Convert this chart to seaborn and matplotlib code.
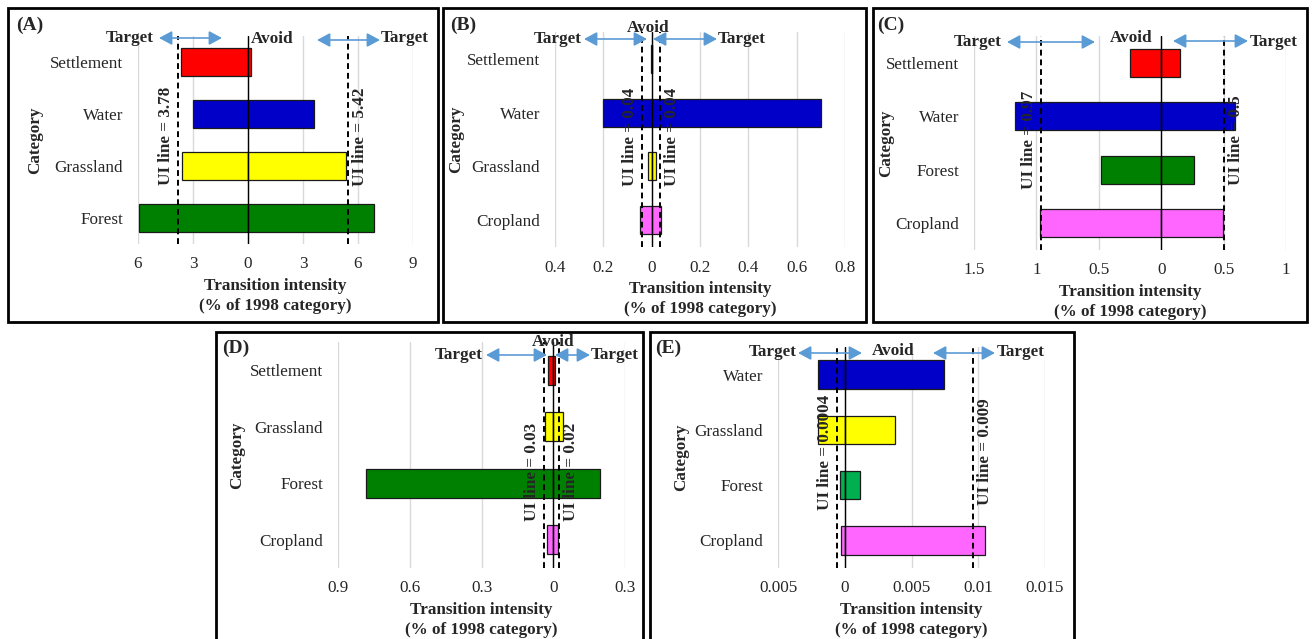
import pandas as pd
import seaborn as sns
import matplotlib.pyplot as plt
from matplotlib.patches import Rectangle, FancyArrowPatch

# ---- data (transition intensity, % of 1998 category)
cats_a = ["Settlement", "Water", "Grassland", "Forest"]
loss_a = [3.64, 3.02, 3.60, 5.93]
gain_a = [0.16, 3.58, 5.36, 6.85]
ui_a = [3.82, 5.45]
ui_txt_a = ["UI line = 3.78", "UI line = 5.42"]
ticks_a = [-6, -3, 0, 3, 6, 9]
ticklab_a = ["6", "3", "0", "3", "6", "9"]

cats_b = ["Settlement", "Water", "Grassland", "Cropland"]
loss_b = [0.001, 0.201, 0.014, 0.047]
gain_b = [0.001, 0.700, 0.018, 0.040]
ui_b = [0.039, 0.034]
ui_txt_b = ["UI line = 0.04", "UI line = 0.04"]
ticks_b = [-0.4, -0.2, 0, 0.2, 0.4, 0.6, 0.8]
ticklab_b = ["0.4", "0.2", "0", "0.2", "0.4", "0.6", "0.8"]

cats_c = ["Settlement", "Water", "Forest", "Cropland"]
loss_c = [0.249, 1.171, 0.479, 0.973]
gain_c = [0.152, 0.594, 0.265, 0.495]
ui_c = [0.963, 0.505]
ui_txt_c = ["UI line = 0.97", "UI line = 0.5"]
ticks_c = [-1.5, -1, -0.5, 0, 0.5, 1]
ticklab_c = ["1.5", "1", "0.5", "0", "0.5", "1"]

cats_d = ["Settlement", "Grassland", "Forest", "Cropland"]
loss_d = [0.020, 0.033, 0.781, 0.027]
gain_d = [0.006, 0.040, 0.194, 0.020]
ui_d = [0.038, 0.025]
ui_txt_d = ["UI line = 0.03", "UI line = 0.02"]
ticks_d = [-0.9, -0.6, -0.3, 0, 0.3]
ticklab_d = ["0.9", "0.6", "0.3", "0", "0.3"]

cats_e = ["Water", "Grassland", "Forest", "Cropland"]
loss_e = [0.0020, 0.0020, 0.00038, 0.00028]
gain_e = [0.0074, 0.00378, 0.00115, 0.01048]
ui_e = [0.00058, 0.00958]
ui_txt_e = ["UI line = 0.0004", "UI line = 0.009"]
ticks_e = [-0.005, 0, 0.005, 0.01, 0.015]
ticklab_e = ["0.005", "0", "0.005", "0.01", "0.015"]

colors = {"Settlement": "#FF0000", "Water": "#0000C8", "Grassland": "#FFFF00",
          "Forest": "#008000", "Cropland": "#FF66FF"}
colors_e = dict(colors, Forest="#00B050")

sns.set_style("white")
plt.rcParams["font.family"] = ["Liberation Serif", "DejaVu Serif"]
FS = 12.3

W, H = 1313, 639
fig = plt.figure(figsize=(W / 100, H / 100), dpi=100)


def px_rect(l, r, t, b):
    return [l / W, 1 - b / H, (r - l) / W, (b - t) / H]


def panel(box, cats, loss, gain, ui, ui_txt, ticks, ticklab, pal, ylab_x, ui_y=1.45):
    ax = fig.add_axes(px_rect(*box))
    df = pd.DataFrame({"Category": cats, "loss": [-v for v in loss], "gain": gain})
    for col in ["loss", "gain"]:
        sns.barplot(data=df, x=col, y="Category", hue="Category", palette=pal,
                    saturation=1, legend=False, width=0.52, edgecolor="#1a1a1a",
                    linewidth=0.9, errorbar=None, orient="h", ax=ax, zorder=3)
    ax.set_xlim(ticks[0], ticks[-1])
    ax.set_ylim(len(cats) - 0.5, -0.5)
    ax.set_xticks(ticks)
    ax.set_xticklabels(ticklab, fontsize=FS)
    ax.tick_params(axis="x", length=0, pad=9)
    ax.tick_params(axis="y", length=0, pad=10.8, labelsize=FS)
    ax.grid(axis="x", color="#d9d9d9", lw=1, zorder=0)
    ax.set_axisbelow(True)
    for s in ax.spines.values():
        s.set_visible(False)
    ax.axvline(0, color="black", lw=1, zorder=4)
    for x in [-ui[0], ui[1]]:
        ax.axvline(x, color="black", lw=1.4, ls=(0, (3, 2)), zorder=5)
    ax.annotate(ui_txt[0], xy=(-ui[0], ui_y), xytext=(-8.6, 0), textcoords="offset points",
                rotation=90, ha="center", va="center", fontsize=FS, fontweight="bold", zorder=6)
    ax.annotate(ui_txt[1], xy=(ui[1], ui_y), xytext=(8.6, 0), textcoords="offset points",
                rotation=90, ha="center", va="center", fontsize=FS, fontweight="bold", zorder=6)
    ax.set_xlabel("Transition intensity\n(% of 1998 category)", fontsize=FS,
                  fontweight="bold", labelpad=4, linespacing=1.3)
    ax.set_ylabel("Category", fontsize=FS, fontweight="bold")
    ax.yaxis.set_label_coords((ylab_x + 8 - box[0]) / (box[1] - box[0]), 0.5)
    return ax


def decorate(label, lab_xy, texts, arrows, border):
    fig.text(lab_xy[0] / W, 1 - lab_xy[1] / H, label, fontsize=14, fontweight="bold",
             ha="left", va="center")
    for t, x, y, ha in texts:
        fig.text(x / W, 1 - y / H, t, fontsize=FS, fontweight="bold", ha=ha, va="center",
                 zorder=10)
    for x0, x1, y in arrows:
        fig.add_artist(FancyArrowPatch(
            (x0 / W, 1 - y / H), (x1 / W, 1 - y / H), transform=fig.transFigure,
            arrowstyle="<|-|>,head_length=0.65,head_width=0.35", mutation_scale=12,
            color="#5B9BD5", lw=1.2, shrinkA=0, shrinkB=0))
    x0, y0, x1, y1 = border
    fig.patches.append(Rectangle((x0 / W, 1 - y1 / H), (x1 - x0) / W, (y1 - y0) / H,
                                 transform=fig.transFigure, fill=False, ec="black",
                                 lw=2, zorder=0))


panel((138, 413, 36, 244), cats_a, loss_a, gain_a, ui_a, ui_txt_a, ticks_a, ticklab_a, colors, 35, 1.43)
decorate("(A)", (16, 25),
         [("Target", 154, 38, "right"), ("Avoid", 251, 39, "left"), ("Target", 381, 38, "left")],
         [(159, 222, 38), (317, 380, 40)], (8, 8, 438, 322))

panel((555, 845, 32, 247), cats_b, loss_b, gain_b, ui_b, ui_txt_b, ticks_b, ticklab_b, colors, 456, 1.45)
decorate("(B)", (450, 25),
         [("Target", 582, 39, "right"), ("Avoid", 648, 28, "center"), ("Target", 718, 39, "left")],
         [(584, 647, 39), (653, 717, 39)], (443, 8, 866, 322))

panel((974, 1286, 36, 250), cats_c, loss_c, gain_c, ui_c, ui_txt_c, ticks_c, ticklab_c, colors, 886, 1.45)
decorate("(C)", (877, 25),
         [("Target", 1002, 42, "right"), ("Avoid", 1131, 38, "center"), ("Target", 1250, 42, "left")],
         [(1007, 1095, 42), (1173, 1248, 41)], (873, 8, 1307, 322))

panel((338, 625, 342, 568), cats_d, loss_d, gain_d, ui_d, ui_txt_d, ticks_d, ticklab_d, colors, 237, 1.8)
decorate("(D)", (222, 348),
         [("Target", 483, 355, "right"), ("Avoid", 553, 342, "center"), ("Target", 591, 355, "left")],
         [(486, 547, 355), (555, 590, 355)], (216, 332, 643, 650))

panel((778, 1045, 347, 568), cats_e, loss_e, gain_e, ui_e, ui_txt_e, ticks_e, ticklab_e, colors_e, 681, 1.4)
decorate("(E)", (655, 348),
         [("Target", 797, 352, "right"), ("Avoid", 893, 351, "center"), ("Target", 997, 352, "left")],
         [(798, 862, 353), (933, 995, 353)], (650, 332, 1074, 650))

fig.savefig("out.png", dpi=100, facecolor="white")
